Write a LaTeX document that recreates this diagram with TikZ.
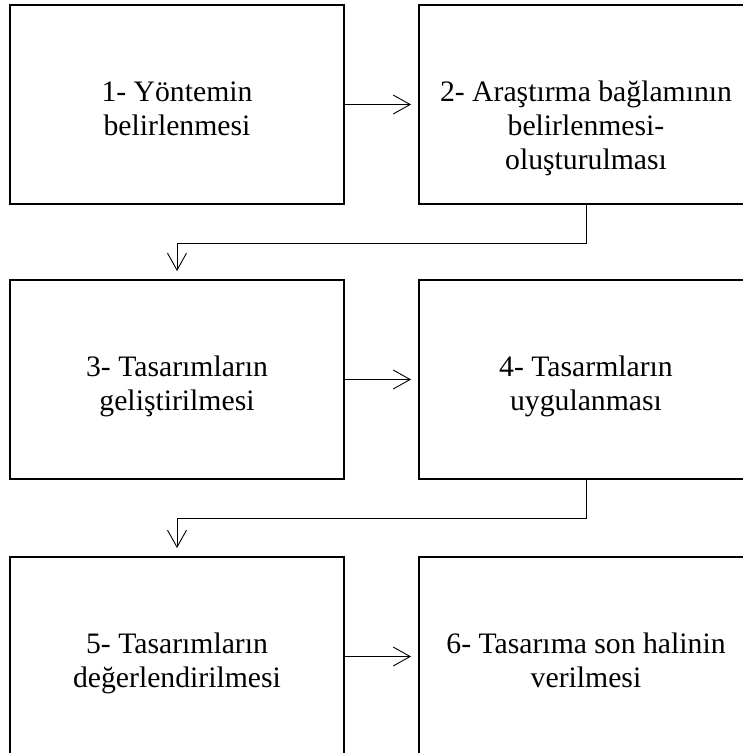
\documentclass[tikz,border=0pt]{standalone}
\usepackage{fontspec}
\setmainfont{Liberation Serif}
\usetikzlibrary{arrows.meta}
\begin{document}
\begin{tikzpicture}[x=1pt,y=-1pt,
  stagebox/.style={draw=black, line width=1.9pt, minimum width=334pt,
    minimum height=199pt, inner sep=0pt},
  stagetext/.style={anchor=north, align=center, inner sep=0pt,
    font=\fontsize{29.7pt}{34pt}\selectfont},
  flow/.style={line width=0.9pt, -{Straight Barb[length=17pt,width=19pt,line width=0.9pt]}}
]
\useasboundingbox (0,0) rectangle (743,753);
\clip (0,0) rectangle (743,753);

% the six stage boxes, two per row
\node[stagebox] (b1) at (177,104.5) {};
\node[stagebox] (b2) at (586,104.5) {};
\node[stagebox] (b3) at (177,379.5) {};
\node[stagebox] (b4) at (586,379.5) {};
\node[stagebox] (b5) at (177,656.5) {};
\node[stagebox] (b6) at (586,656.5) {};

% stage captions; the strut fixes the first baseline 97pt below each box top
\newcommand{\firstline}{\rule{0pt}{22pt}}
\node[stagetext] (t1) at ([yshift=-75pt]b1.north) {\firstline 1- Yöntemin\\belirlenmesi};
\node[stagetext] (t2) at ([yshift=-75pt]b2.north) {\firstline 2- Araştırma bağlamının\\belirlenmesi-\\oluşturulması};
\node[stagetext] (t3) at ([yshift=-75pt]b3.north) {\firstline 3- Tasarımların\\geliştirilmesi};
\node[stagetext] (t4) at ([yshift=-75pt]b4.north) {\firstline 4- Tasarmların\\uygulanması};
\node[stagetext] (t5) at ([yshift=-75pt]b5.north) {\firstline 5- Tasarımların\\değerlendirilmesi};
\node[stagetext] (t6) at ([yshift=-75pt]b6.north) {\firstline 6- Tasarıma son halinin\\verilmesi};

% connectors within a row
\draw[flow, shorten >=7pt] (b1.east) -- (b2.west);
\draw[flow, shorten >=7pt] (b3.east) -- (b4.west);
\draw[flow, shorten >=7pt] (b5.east) -- (b6.west);

% connectors down to the next row
\draw[flow, shorten >=8pt] (b2.south) -- ++(0,38) -| (b3.north);
\draw[flow, shorten >=8pt] (b4.south) -- ++(0,38) -| (b5.north);
\end{tikzpicture}
\end{document}
